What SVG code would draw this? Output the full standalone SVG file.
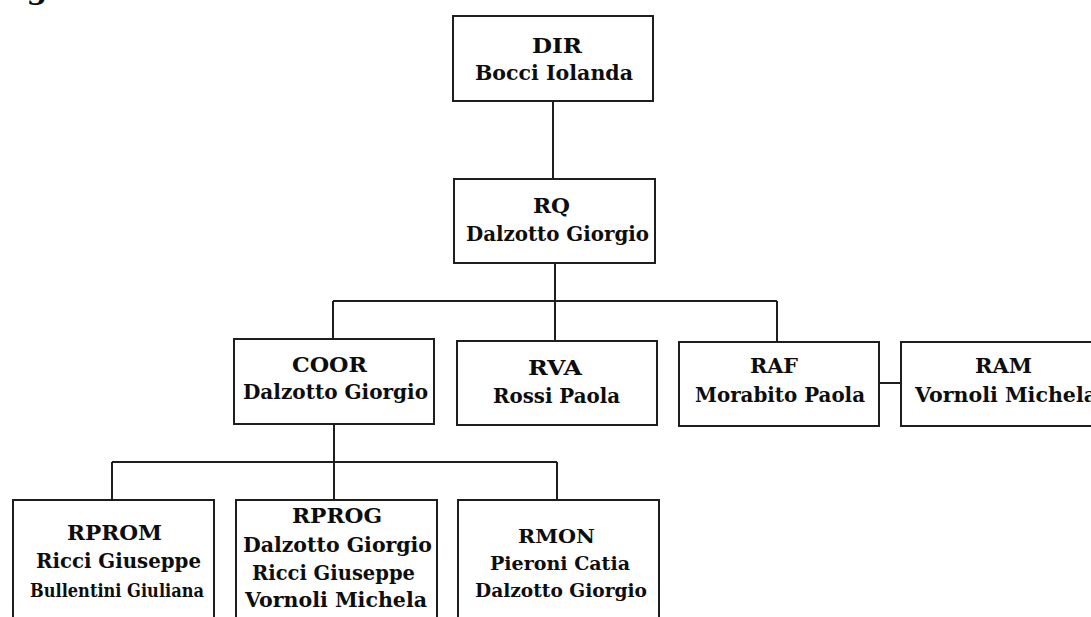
<svg xmlns="http://www.w3.org/2000/svg" width="1091" height="617" viewBox="0 0 1091 617">
<style>
.box{fill:#fff;stroke:#1e1e1e;stroke-width:2}
.ln{fill:none;stroke:#1e1e1e;stroke-width:2}
text{font-family:"DejaVu Serif","Liberation Serif",serif;font-weight:bold;font-size:20px;fill:#0d0d0d;text-anchor:middle}
.sm{font-size:18px}
</style>
<rect width="1091" height="617" fill="#fff"/>
<text x="37" y="-1" style="font-size:30px">g</text>
<g id="connectors">
<path class="ln" d="M553 101V179"/>
<path class="ln" d="M555 263V341"/>
<path class="ln" d="M333 301H777"/>
<path class="ln" d="M333 301V339"/>
<path class="ln" d="M777 301V342"/>
<path class="ln" d="M879 383H901"/>
<path class="ln" d="M334 424V500"/>
<path class="ln" d="M112 462H557"/>
<path class="ln" d="M112 462V500"/>
<path class="ln" d="M557 462V500"/>
</g>
<g id="DIR">
<rect class="box" x="453" y="16" width="200" height="85"/>
<text x="557" y="53" textLength="50" lengthAdjust="spacingAndGlyphs">DIR</text>
<text x="554" y="80" textLength="158" lengthAdjust="spacingAndGlyphs">Bocci Iolanda</text>
</g>
<g id="RQ">
<rect class="box" x="454" y="179" width="201" height="84"/>
<text x="551.5" y="213" textLength="37" lengthAdjust="spacingAndGlyphs">RQ</text>
<text x="557.5" y="241" textLength="183" lengthAdjust="spacingAndGlyphs">Dalzotto Giorgio</text>
</g>
<g id="COOR">
<rect class="box" x="234" y="339" width="200" height="85"/>
<text x="329.5" y="372" textLength="75" lengthAdjust="spacingAndGlyphs">COOR</text>
<text x="335.5" y="399" textLength="185" lengthAdjust="spacingAndGlyphs">Dalzotto Giorgio</text>
</g>
<g id="RVA">
<rect class="box" x="457" y="341" width="200" height="84"/>
<text x="555" y="375" textLength="54" lengthAdjust="spacingAndGlyphs">RVA</text>
<text x="556.5" y="403" textLength="127" lengthAdjust="spacingAndGlyphs">Rossi Paola</text>
</g>
<g id="RAF">
<rect class="box" x="679" y="342" width="200" height="84"/>
<text x="774" y="373" textLength="48" lengthAdjust="spacingAndGlyphs">RAF</text>
<text x="780" y="402" textLength="170" lengthAdjust="spacingAndGlyphs">Morabito Paola</text>
</g>
<g id="RAM">
<rect class="box" x="901" y="342" width="204" height="84"/>
<text x="1003.5" y="373" textLength="57" lengthAdjust="spacingAndGlyphs">RAM</text>
<text x="1006" y="402" textLength="182" lengthAdjust="spacingAndGlyphs">Vornoli Michela</text>
</g>
<g id="RPROM">
<rect class="box" x="13" y="500" width="201" height="130"/>
<text x="114.5" y="540" textLength="95" lengthAdjust="spacingAndGlyphs">RPROM</text>
<text x="118.5" y="568" textLength="165" lengthAdjust="spacingAndGlyphs">Ricci Giuseppe</text>
<text class="sm" x="117" y="597" textLength="174" lengthAdjust="spacingAndGlyphs">Bullentini Giuliana</text>
</g>
<g id="RPROG">
<rect class="box" x="236" y="500" width="201" height="130"/>
<text x="337" y="523" textLength="90" lengthAdjust="spacingAndGlyphs">RPROG</text>
<text x="337.5" y="552" textLength="189" lengthAdjust="spacingAndGlyphs">Dalzotto Giorgio</text>
<text x="333.5" y="580" textLength="163" lengthAdjust="spacingAndGlyphs">Ricci Giuseppe</text>
<text x="336" y="607" textLength="182" lengthAdjust="spacingAndGlyphs">Vornoli Michela</text>
</g>
<g id="RMON">
<rect class="box" x="458" y="500" width="201" height="130"/>
<text class="sm" x="556.5" y="543" textLength="77" lengthAdjust="spacingAndGlyphs">RMON</text>
<text class="sm" x="560" y="570" textLength="140" lengthAdjust="spacingAndGlyphs">Pieroni Catia</text>
<text class="sm" x="561" y="597" textLength="172" lengthAdjust="spacingAndGlyphs">Dalzotto Giorgio</text>
</g>
</svg>
